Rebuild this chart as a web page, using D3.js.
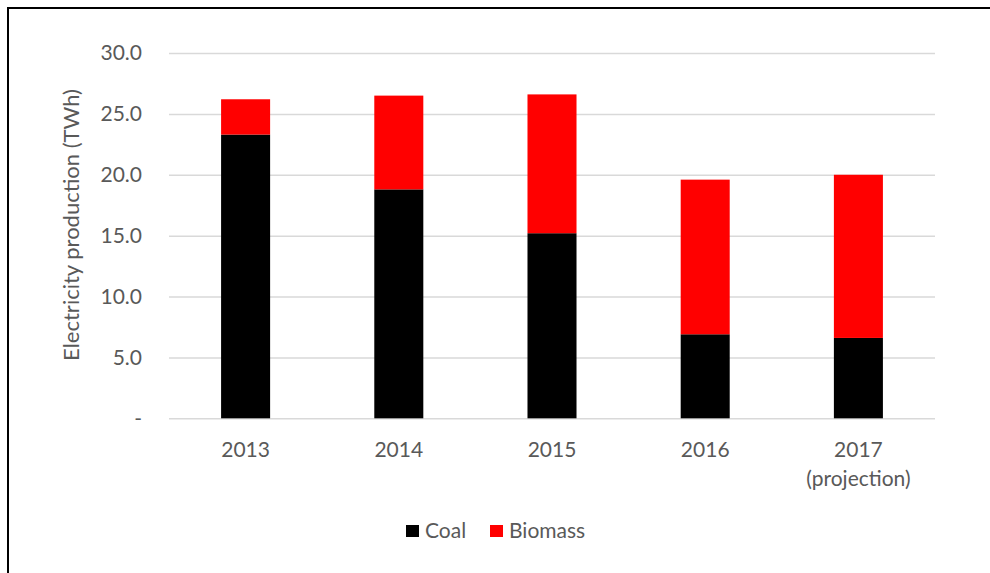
<!DOCTYPE html>
<html>
<head>
<meta charset="utf-8">
<script src="https://cdn.jsdelivr.net/npm/d3@7"></script>
<style>
  html, body { margin: 0; padding: 0; background: #fff; }
  svg { display: block; }
  text { font-family: Lato, "Open Sans", sans-serif; fill: #595959; }
</style>
</head>
<body>
<svg id="chart" width="990" height="573"></svg>
<script>
// Electricity production by fuel (TWh)
const years = ["2013", "2014", "2015", "2016", "2017\n(projection)"];
const coal = [23.3, 18.8, 15.2, 6.9, 6.6];
const biomass = [2.9, 7.7, 11.4, 12.7, 13.4];
const yTicks = [0, 5, 10, 15, 20, 25, 30];
const seriesNames = ["Coal", "Biomass"];
const seriesColors = ["#000000", "#ff0000"];

const rows = years.map((y, i) => ({ year: y, Coal: coal[i], Biomass: biomass[i] }));
const stacked = d3.stack().keys(seriesNames)(rows);

const svg = d3.select("#chart");
const margin = { left: 169, right: 55, top: 53, bottom: 155 };
const W = 990, H = 573;
const fs = 21;

const x = d3.scaleBand().domain(years).range([margin.left, W - margin.right]).paddingInner(0.68).paddingOuter(0.34);
const y = d3.scaleLinear().domain([0, 30]).range([418.3, 53]);

// outer frame
svg.append("rect").attr("x", 8).attr("y", 8).attr("width", 1100).attr("height", 800)
  .attr("fill", "none").attr("stroke", "#000").attr("stroke-width", 2);

// gridlines and value labels
const yAxis = d3.axisLeft(y).tickValues(yTicks)
  .tickSize(-(W - margin.right - margin.left))
  .tickFormat(d => d === 0 ? "-" : d3.format(".1f")(d));
const gy = svg.append("g").attr("transform", `translate(${margin.left},0)`).call(yAxis);
gy.select(".domain").remove();
gy.selectAll(".tick line").attr("stroke", "#d9d9d9").attr("stroke-width", 1.5);
gy.selectAll(".tick text").attr("x", -27).attr("font-size", fs).attr("fill", "#595959")
  .style("font-family", "Lato, 'Open Sans', sans-serif");

// stacked bars
svg.append("g").selectAll("g").data(stacked).join("g")
  .attr("fill", (d, i) => seriesColors[i])
  .selectAll("rect").data(d => d).join("rect")
  .attr("x", d => x(d.data.year))
  .attr("width", x.bandwidth())
  .attr("y", d => y(d[1]))
  .attr("height", d => y(d[0]) - y(d[1]));

// category labels
const xAxis = d3.axisBottom(x).tickSize(0).tickFormat("");
const gx = svg.append("g").attr("transform", `translate(0,${y(0)})`).call(xAxis);
gx.select(".domain").remove();
gx.selectAll(".tick").each(function(d) {
  const t = d3.select(this).append("text").attr("text-anchor", "middle")
    .attr("font-size", fs).attr("fill", "#595959");
  d.split("\n").forEach((line, i) => {
    t.append("tspan").attr("x", 0).attr("y", 39 + i * 29).text(line);
  });
});

// y axis title
svg.append("text")
  .attr("transform", `translate(79,225) rotate(-90)`)
  .attr("text-anchor", "middle").attr("font-size", 22)
  .text("Electricity production (TWh)");

// legend
const legend = svg.append("g").attr("transform", "translate(406,531)");
const lx = [0, 84];
seriesNames.forEach((name, i) => {
  const g = legend.append("g").attr("transform", `translate(${lx[i]},0)`);
  g.append("rect").attr("x", 0).attr("y", -6).attr("width", 13).attr("height", 12).attr("fill", seriesColors[i]);
  g.append("text").attr("x", 19).attr("y", 7).attr("font-size", fs).text(name);
});
</script>
</body>
</html>
